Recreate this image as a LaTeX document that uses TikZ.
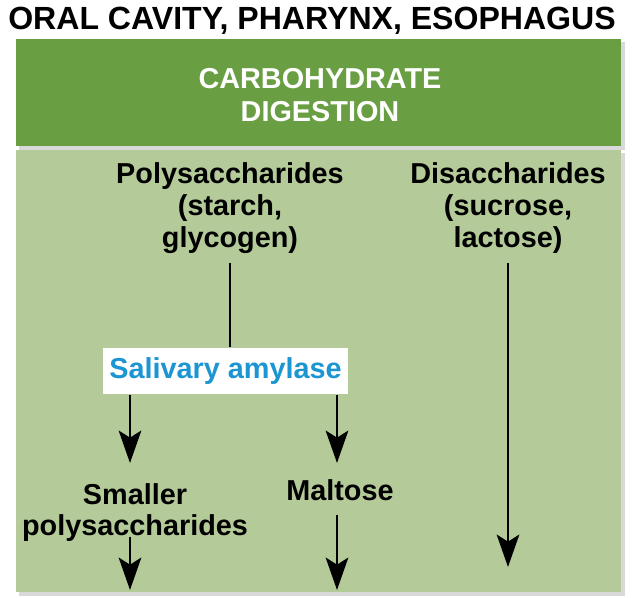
\documentclass[tikz,border=0pt]{standalone}
\usepackage{fontspec}
\setmainfont{Liberation Sans}
\usetikzlibrary{arrows.meta}
\definecolor{headgreen}{RGB}{106,158,67}
\definecolor{panelgreen}{RGB}{180,202,153}
\definecolor{enzblue}{RGB}{27,150,210}
\begin{document}
\begin{tikzpicture}[x=0.025cm, y=-0.025cm, line width=2.1pt]
    \tikzset{label/.style={align=center, inner sep=0pt, anchor=north,
        font=\bfseries\fontsize{20.5}{22.7}\selectfont},
      arr/.style={-{Stealth[length=23pt, width=16pt, inset=5pt]}}};
    \useasboundingbox (0,0) rectangle (640,598);

    % Boxes
    \fill[black!15] (19,42) rectangle (625,150);
    \fill[black!15] (19,153) rectangle (625,596);
    \fill[headgreen] (16,39) rectangle (621,146);
    \fill[panelgreen] (16,150) rectangle (621,592);

    % Title and header
    \node[label, font=\bfseries\fontsize{22.8}{26}\selectfont] (title) at (312,6)
      {ORAL CAVITY, PHARYNX, ESOPHAGUS};
    \node[label, text=white, font=\bfseries\fontsize{20.5}{23.4}\selectfont] (head) at (320,67)
      {CARBOHYDRATE\\DIGESTION};

    % Substrates
    \node[label] (poly) at (230,161) {Polysaccharides\\(starch,\\glycogen)};
    \node[label] (dis) at (508,161) {Disaccharides\\(sucrose,\\lactose)};

    % Enzyme
    \node[label, anchor=center, fill=white, text=enzblue, minimum width=6.125cm,
      minimum height=1.15cm] (sal) at (225.5,371) {Salivary amylase};

    % Products
    \node[label, font=\bfseries\fontsize{20.5}{22}\selectfont] (small) at (135,482)
      {Smaller\\polysaccharides};
    \node[label] (malt) at (340,478) {Maltose};

    % Arrow ends
    \path (130, 463) coordinate (to-small);
    \path (337, 463) coordinate (to-malt);
    \path (130, 590) coordinate (small-out);
    \path (337, 590) coordinate (malt-out);
    \path (508, 567) coordinate (dis-out);

    % Edges
    \draw ([yshift=-6pt]poly.south) -- (poly.south |- sal.north);
    \draw[arr] ([yshift=-6pt]dis.south) -- (dis-out);
    \foreach \i in {small, malt} { \draw[arr] (sal.south -| to-\i) -- (to-\i); }
    \draw[arr] ([yshift=4pt]small.south -| small-out) -- (small-out);
    \draw[arr] ([yshift=-9pt]malt.south -| malt-out) -- (malt-out);
  \end{tikzpicture}
\end{document}
